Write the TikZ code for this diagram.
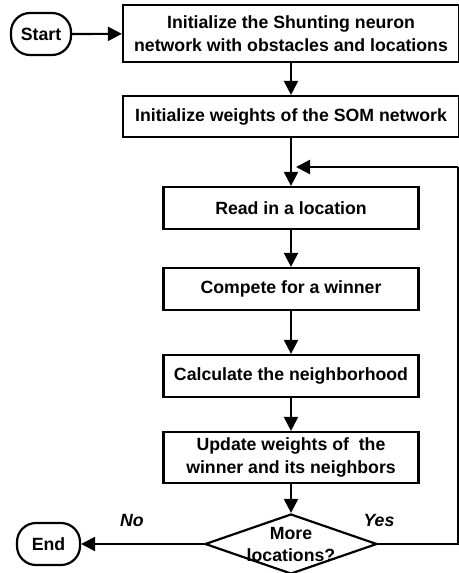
\documentclass[tikz,border=0pt]{standalone}
\usepackage{fontspec}
\setmainfont{Liberation Sans}
\usetikzlibrary{arrows.meta,shapes.geometric}
\begin{document}
\begin{tikzpicture}[x=1pt,y=-1pt,
  every node/.style={font=\bfseries\fontsize{17.7}{23.5}\selectfont, inner sep=0pt, align=center},
  proc/.style={draw, line width=2.2pt, rectangle},
  wide/.style={proc, minimum width=336pt},
  narrow/.style={proc, minimum width=255pt},
  term/.style={draw, line width=2.2pt, rectangle, rounded corners=19pt, minimum height=42pt},
  dec/.style={draw, line width=2.2pt, diamond, minimum width=172pt, minimum height=60pt},
  conn/.style={line width=2.2pt, -{Triangle[length=14pt,width=14pt]}},
  plain/.style={line width=2.2pt},
  lbl/.style={font=\bfseries\itshape\fontsize{17.7}{20}\selectfont}
]
\useasboundingbox (0,0) rectangle (458,573);
\node[term, minimum width=60pt] (start) at (41,34) {Start};
\node[wide, minimum height=57pt] (init1) at (291,33.5) {Initialize the Shunting neuron\\network with obstacles and locations};
\node[wide, minimum height=41pt] (init2) at (291,116.5) {Initialize weights of the SOM network};
\node[narrow, minimum height=42pt] (read) at (291,208) {Read in a location};
\node[narrow, minimum height=42pt] (comp) at (291,289) {Compete for a winner};
\node[narrow, minimum height=42pt] (calc) at (291,376) {Calculate the neighborhood};
\node[narrow, minimum height=51pt] (upd) at (291,457.5) {Update weights of\ \ the\\winner and its neighbors};
\node[dec] (more) at (291,544) {};
\node[font=\bfseries\fontsize{17.7}{22}\selectfont] (moretxt) at (291,544) {More\\locations?};
\node[term, minimum width=63pt] (end) at (48.5,544) {End};
\node[lbl] (no) at (132,520) {No};
\node[lbl] (yes) at (379,520) {Yes};
\coordinate (br) at (458,544);
\coordinate (tr) at (458,167);
\coordinate (tip) at (296,167);
\draw[conn] (start) -- (init1);
\draw[conn] (init1.south) -- (init2.north);
\draw[conn] (init2.south) -- (read.north);
\draw[conn] (read) -- (comp);
\draw[conn] (comp) -- (calc);
\draw[conn] (calc) -- (upd);
\draw[conn] (upd) -- (more.north);
\draw[conn] (more.west) -- (end);
\draw[plain] (more.east) -- (br) -- (tr);
\draw[conn] (tr) -- (tip);
\end{tikzpicture}
\end{document}
